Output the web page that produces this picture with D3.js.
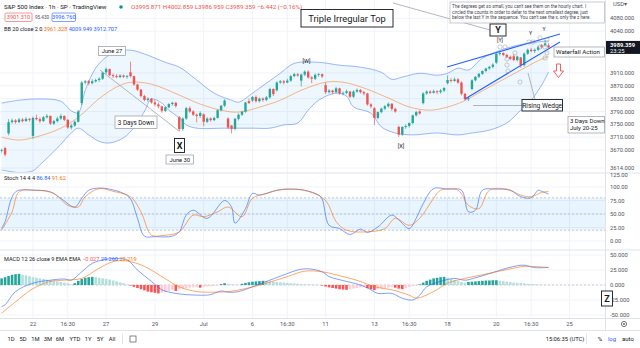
<!DOCTYPE html>
<html><head><meta charset="utf-8">
<script src="https://cdn.jsdelivr.net/npm/d3@7"></script>
<style>
body{margin:0;background:#fff}
svg{display:block}
text{font-family:Roboto,"Open Sans",sans-serif}
</style>
</head><body>
<svg id="c" width="640" height="348"></svg>
<script>
// Hourly bars, Jun 17 (last two) through Jul 22 (first two)
const opens = [
 3668,3676,
 3722,3757,3762,3757,3765,3760,3767,
 3714,3770,3766,3760,3772,3776,3752,
 3760,3768,3776,3764,3740,3746,3758,
 3816,3880,3884,3878,3884,3888,3892,
 3912,3922,3903,3900,3897,3902,3898,
 3912,3900,3874,3858,3838,3826,3830,
 3818,3812,3806,3792,3803,3813,3817,
 3772,3735,3768,3800,3790,3780,3776,
 3781,3758,3768,3763,3770,3794,3808,
 3768,3746,3736,3767,3780,3789,3822,
 3824,3835,3822,3830,3826,3834,3860,
 3856,3880,3884,3880,3886,3900,3906,
 3886,3905,3914,3896,3892,3904,3906,
 3872,3850,3855,3850,3862,3846,3848,
 3852,3836,3852,3857,3850,3846,3812,
 3800,3770,3788,3799,3806,3814,3798,
 3742,3718,3742,3745,3754,3778,3790,
 3816,3846,3852,3848,3853,3850,3855,
 3878,3888,3885,3890,3880,3845,3828,
 3860,3887,3898,3907,3916,3924,3929,
 3942,3969,3972,3966,3960,3962,3950,
 3958,3934,3970,3982,3978,3982,3996,
 3996,3995.871];
const highs = [
 3674,3680,
 3766,3768,3766,3770,3770,3772,3770,
 3774,3780,3772,3776,3782,3778,3764,
 3774,3782,3778,3766,3752,3762,3795,
 3885,3888,3888,3890,3892,3896,3914,
 3927,3924,3908,3906,3906,3905,3904,
 3945,3902,3876,3860,3842,3834,3832,
 3826,3818,3808,3806,3816,3820,3820,
 3776,3772,3804,3806,3794,3784,3790,
 3784,3772,3772,3774,3796,3810,3828,
 3772,3748,3770,3784,3792,3820,3830,
 3838,3840,3834,3834,3838,3864,3862,
 3884,3888,3888,3892,3904,3910,3910,
 3908,3918,3918,3900,3908,3910,3908,
 3880,3860,3858,3866,3864,3852,3858,
 3854,3856,3862,3860,3854,3848,3816,
 3804,3790,3802,3810,3818,3816,3802,
 3746,3744,3750,3756,3780,3792,3794,
 3850,3856,3856,3858,3856,3860,3866,
 3902,3894,3896,3894,3884,3848,3836,
 3890,3900,3910,3918,3926,3932,3940,
 3972,3976,3974,3970,3964,3968,3964,
 3960,3974,3986,3988,3986,3994,4000,
 4012,4002.859];
const lows = [
 3662,3650,
 3716,3752,3752,3754,3756,3758,3758,
 3705,3762,3754,3758,3768,3748,3748,
 3756,3764,3760,3736,3734,3742,3756,
 3810,3874,3872,3874,3880,3882,3888,
 3906,3900,3894,3893,3894,3894,3892,
 3896,3870,3854,3834,3822,3820,3814,
 3806,3800,3786,3788,3800,3808,3802,
 3728,3730,3764,3786,3776,3756,3770,
 3744,3754,3758,3760,3768,3790,3804,
 3736,3722,3732,3762,3776,3786,3814,
 3820,3818,3818,3820,3822,3830,3838,
 3852,3876,3874,3878,3882,3896,3898,
 3868,3900,3892,3878,3888,3898,3894,
 3844,3846,3844,3846,3842,3840,3844,
 3832,3832,3848,3846,3840,3808,3800,
 3748,3766,3784,3794,3802,3792,3786,
 3711,3714,3736,3740,3750,3774,3780,
 3812,3842,3844,3846,3844,3846,3850,
 3874,3880,3882,3876,3840,3824,3822,
 3856,3884,3894,3904,3912,3920,3924,
 3938,3964,3962,3956,3950,3946,3946,
 3926,3930,3966,3974,3972,3978,3986,
 3992,3986.959];
const closes = [
 3670,3656,
 3757,3762,3757,3765,3760,3767,3764,
 3770,3766,3760,3772,3776,3752,3760,
 3768,3776,3764,3740,3746,3758,3790,
 3880,3884,3878,3884,3888,3892,3911,
 3922,3903,3900,3897,3902,3898,3900,
 3900,3874,3858,3838,3826,3830,3818,
 3812,3806,3792,3803,3813,3817,3807,
 3735,3768,3800,3790,3780,3776,3785,
 3758,3768,3763,3770,3794,3808,3824,
 3740,3736,3767,3780,3789,3818,3816,
 3835,3822,3830,3826,3834,3860,3844,
 3880,3884,3880,3886,3900,3906,3902,
 3905,3914,3896,3892,3904,3906,3899,
 3850,3855,3850,3862,3846,3848,3853,
 3836,3852,3857,3850,3846,3812,3806,
 3770,3788,3799,3806,3814,3798,3790,
 3718,3742,3745,3754,3778,3788,3784,
 3846,3852,3848,3853,3850,3855,3863,
 3888,3885,3890,3880,3845,3828,3831,
 3887,3898,3907,3916,3924,3929,3936,
 3969,3972,3966,3960,3954,3950,3961,
 3934,3970,3982,3978,3982,3990,3990,
 4002,3989.359];

// Time axis: bar index of each label
const tickBars   = [9, 19, 30, 44, 58, 72, 82, 93, 107, 117, 128, 142, 152, 163];
const tickLabels = ["22","16:30","27","29","Jul","6","16:30","11","13","16:30","18","20","16:30","25"];

const priceTicks = [4080, 4040, 3910, 3870, 3830, 3790, 3750, 3710, 3670, 3614];
const stochTicks = [100, 75, 50, 25, 0];
const macdTicks  = [50, 25, 0, -25, -50];

// Bollinger Bands (20, 2) as [bar, value]
const bbUpper = [[0,3816],[5,3825],[11,3829],[17,3822],[20,3792],[22,3786],[24,3856],[27,3925],[30,3959],[33,3975],[37,3981],[42,3965],[47,3943],[51,3928],[56,3888],[61,3847],[66,3825],[68,3819],[72,3847],[76,3878],[80,3909],[84,3940],[91,3943],[97,3934],[103,3928],[109,3912],[112,3890],[115,3897],[120,3909],[125,3903],[128,3909],[131,3925],[134,3919],[138,3956],[145,3987],[151,4002],[157,4009.949]];
const bbBasis = [[0,3710],[5,3701],[11,3714],[17,3738],[22,3772],[28,3830],[33,3866],[37,3881],[43,3875],[51,3841],[57,3813],[63,3794],[68,3788],[76,3810],[80,3825],[86,3856],[93,3881],[98,3881],[104,3863],[111,3832],[117,3804],[123,3794],[128,3804],[132,3819],[134,3830],[140,3866],[149,3919],[154,3948],[157,3961.328]];
const bbLower = [[0,3608],[5,3600],[9,3605],[11,3624],[16,3676],[20,3723],[22,3738],[25,3717],[28,3697],[31,3692],[35,3708],[38,3740],[41,3790],[43,3828],[46,3816],[48,3794],[51,3770],[53,3748],[56,3738],[64,3738],[72,3738],[77,3738],[81,3748],[85,3754],[88,3794],[91,3825],[96,3847],[99,3838],[101,3804],[106,3785],[109,3742],[113,3723],[118,3717],[125,3723],[131,3717],[135,3723],[140,3732],[145,3754],[149,3794],[152,3825],[155,3872],[157,3912.707]];

// Stochastic (14, 4, 4)
const stochK = [[0,23],[1,36],[4,91],[9,94],[14,91],[17,79],[21,63],[23,79],[25,94],[28,98],[31,96],[35,88],[37,78],[39,42],[41,9],[44,8],[49,9],[51,17],[53,48],[55,57],[59,42],[64,75],[66,63],[67,33],[70,60],[72,88],[74,85],[79,94],[83,96],[87,94],[91,85],[92,78],[94,29],[97,23],[100,12],[103,22],[105,16],[108,26],[112,48],[114,39],[117,23],[119,42],[121,69],[124,97],[128,96],[132,94],[134,54],[136,57],[138,94],[142,96],[146,94],[149,82],[152,80],[154,94],[155,92],[157,86.84]];
const stochD = [[0,20],[3,54],[5,91],[10,94],[15,88],[19,66],[22,63],[24,82],[28,97],[32,92],[37,82],[40,54],[43,11],[46,10],[51,17],[55,48],[58,45],[62,54],[65,63],[69,45],[72,79],[76,88],[81,96],[88,92],[93,75],[96,36],[99,20],[105,17],[110,23],[113,42],[117,29],[120,42],[124,79],[126,94],[131,94],[134,66],[137,60],[140,94],[145,96],[149,85],[152,82],[155,90],[157,91.62]];

// MACD (12, 26, 9)
const macdLine = [[0,-36],[1,-33],[4,-11],[9,3],[14,8],[18,10],[20,8],[23,22],[26,36],[30,43],[33,44],[36,42],[39,25],[43,6],[46,-8],[50,-14],[53,-16],[58,-17],[60,-16],[63,-10],[65,-12],[68,-11],[72,-3],[77,8],[82,19],[85,25],[88,27],[92,22],[94,14],[99,6],[103,0],[106,-8],[108,-14],[112,-14],[115,-22],[118,-25],[120,-17],[122,-3],[126,6],[130,11],[133,8],[136,12],[140,19],[145,28],[148,32],[150,33],[153,29],[157,29.26]];
const macdSignal = [[0,-47],[4,-28],[9,-6],[14,6],[18,8],[23,11],[28,28],[32,39],[36,40],[41,31],[46,14],[51,-3],[56,-11],[60,-12],[65,-11],[70,-6],[76,3],[82,14],[87,23],[92,22],[98,14],[103,6],[107,-3],[112,-8],[117,-17],[119,-22],[124,-11],[128,3],[133,11],[138,17],[142,22],[147,28],[150,31],[157,29.219]];
const macdHist = [
 11,13,
 15,17,18,18.5,17,16,14.5,
 13,12,11,10,9,8,7,
 6,5,4,3,1,3,7,
 10,12,13,13.5,13,12,11,
 10,9,7.5,6,4.5,3,1,
 -1,-3,-5,-7,-9,-11,-12,
 -13,-14,-13,-12,-10,-8,-10,
 -7,-6,-5,-4.5,-4,-3.5,-4.5,
 -3,-2.5,-2,-1.5,-1,1.5,3,
 2,1,0.5,0.3,2,3.5,4.5,
 5.5,6,6.5,7,6.5,6,5.5,
 5,4.5,4,3.5,3,2.5,2,
 1.5,1.2,1,0.8,0.5,0.2,-1,
 -2.5,-4,-5,-6,-7,-7.5,-8,
 -7,-6,-5,-4,-3,-5,-7,
 -8.5,-7,-6,-5,-4,-3,-4.5,
 -6,-7,-5,-3.5,-2,-1,1,
 4,7,9,11,12,13,13.5,
 12,10,8,6.5,5,4,5,
 5.5,6,6.5,7,7.5,7.5,8,
 8,7,6.5,5.5,5,4,3.5,
 3,2.5,2,1.5,1,0.7,0.5,
 0.3,0.05];

const UP = "#26a69a", DOWN = "#ef5350";
const BLUE = "#2962ff", ORANGE = "#ff6d00";
const PR = 605;               // right edge of the plotting area
const TXT = "#131722", AX = "#50535e", GRID = "#f0f3fa", SEP = "#e0e3eb";

const svg = d3.select("#c");
const x  = d3.scaleLinear().domain([0, 163]).range([1.6, 569.5]);
const yP = d3.scaleLinear().domain([3601.6, 4137]).range([172, 0]);
const yS = d3.scaleLinear().domain([0, 100]).range([241, 187]);
const yM = d3.scaleLinear().domain([-50, 50]).range([315, 255]);

const defs = svg.append("defs");
[["cMain",0,0,PR,172.5],["cStoch",0,173.5,PR,76],["cMacd",0,250.5,PR,67]].forEach(([id,x0,y0,w,h]) => {
  defs.append("clipPath").attr("id", id).append("rect").attr("x",x0).attr("y",y0).attr("width",w).attr("height",h);
});

// grid
const grid = svg.append("g");
grid.selectAll(".v").data(tickBars).join("line")
  .attr("x1", d => x(d)).attr("x2", d => x(d)).attr("y1", 0).attr("y2", 318)
  .attr("stroke", GRID).attr("stroke-width", 1);
grid.selectAll(".hp").data(priceTicks).join("line")
  .attr("x1", 0).attr("x2", PR).attr("y1", d => yP(d)).attr("y2", d => yP(d)).attr("stroke", GRID);
grid.selectAll(".hs").data(stochTicks).join("line")
  .attr("x1", 0).attr("x2", PR).attr("y1", d => yS(d)).attr("y2", d => yS(d)).attr("stroke", GRID);
grid.selectAll(".hm").data(macdTicks).join("line")
  .attr("x1", 0).attr("x2", PR).attr("y1", d => yM(d)).attr("y2", d => yM(d)).attr("stroke", GRID);

// ---------- main pane ----------
const main = svg.append("g").attr("clip-path", "url(#cMain)");
const curve = d3.curveCatmullRom.alpha(0.5);
const lineP = d3.line().x(d => x(d[0])).y(d => yP(d[1])).curve(curve);
const upPath = lineP(bbUpper);
const loRev = lineP(bbLower.slice().reverse());
main.append("path").attr("d", upPath + "L" + loRev.slice(1) + "Z")
  .attr("fill", "#2196f3").attr("fill-opacity", 0.08);
main.append("path").attr("d", upPath).attr("fill","none").attr("stroke", BLUE).attr("stroke-opacity",0.6).attr("stroke-width",0.75);
main.append("path").attr("d", lineP(bbLower)).attr("fill","none").attr("stroke", BLUE).attr("stroke-opacity",0.6).attr("stroke-width",0.75);
main.append("path").attr("d", lineP(bbBasis)).attr("fill","none").attr("stroke", ORANGE).attr("stroke-opacity",0.65).attr("stroke-width",0.75);

const bars = d3.range(closes.length);
const col = i => closes[i] >= opens[i] ? UP : DOWN;
main.selectAll(".wick").data(bars).join("line")
  .attr("x1", i => x(i)).attr("x2", i => x(i))
  .attr("y1", i => yP(highs[i])).attr("y2", i => yP(lows[i]))
  .attr("stroke", col).attr("stroke-width", 0.7);
main.selectAll(".body").data(bars).join("rect")
  .attr("x", i => x(i) - 1.2).attr("width", 2.4)
  .attr("y", i => yP(Math.max(opens[i], closes[i])))
  .attr("height", i => Math.max(0.8, Math.abs(yP(opens[i]) - yP(closes[i]))))
  .attr("fill", col);

// ---------- stochastic pane ----------
const st = svg.append("g").attr("clip-path", "url(#cStoch)");
st.append("rect").attr("x",0).attr("width",PR).attr("y",yS(80)).attr("height",yS(20)-yS(80))
  .attr("fill","#2196f3").attr("fill-opacity",0.1);
[80,50,20].forEach(v => st.append("line").attr("x1",0).attr("x2",PR).attr("y1",yS(v)).attr("y2",yS(v))
  .attr("stroke","#787b86").attr("stroke-opacity",0.55).attr("stroke-width",0.7).attr("stroke-dasharray","2,2"));
const lineS = d3.line().x(d => x(d[0])).y(d => yS(d[1])).curve(curve);
st.append("path").attr("d", lineS(stochK)).attr("fill","none").attr("stroke",BLUE).attr("stroke-opacity",0.75).attr("stroke-width",0.8);
st.append("path").attr("d", lineS(stochD)).attr("fill","none").attr("stroke",ORANGE).attr("stroke-opacity",0.75).attr("stroke-width",0.8);

// ---------- MACD pane ----------
const mc = svg.append("g").attr("clip-path", "url(#cMacd)");
mc.append("line").attr("x1",0).attr("x2",PR).attr("y1",yM(0)).attr("y2",yM(0))
  .attr("stroke","#787b86").attr("stroke-opacity",0.5).attr("stroke-width",0.7).attr("stroke-dasharray","2,2");
const histCol = (v, i) => {
  const p = i > 0 ? macdHist[i-1] : v;
  if (v >= 0) return v >= p ? "#26a69a" : "#b2dfdb";
  return v <= p ? "#ff5252" : "#ffcdd2";
};
mc.selectAll(".h").data(macdHist).join("rect")
  .attr("x", (v,i) => x(i) - 1.3).attr("width", 2.6)
  .attr("y", v => Math.min(yM(0), yM(v))).attr("height", v => Math.abs(yM(v) - yM(0)))
  .attr("fill", histCol);
const lineM = d3.line().x(d => x(d[0])).y(d => yM(d[1])).curve(curve);
mc.append("path").attr("d", lineM(macdLine)).attr("fill","none").attr("stroke",BLUE).attr("stroke-opacity",0.75).attr("stroke-width",0.8);
mc.append("path").attr("d", lineM(macdSignal)).attr("fill","none").attr("stroke",ORANGE).attr("stroke-opacity",0.75).attr("stroke-width",0.8);

// ---------- separators and axes ----------
const sep = (x1,y1,x2,y2) => svg.append("line").attr("x1",x1).attr("y1",y1).attr("x2",x2).attr("y2",y2).attr("stroke",SEP).attr("stroke-width",1);
sep(0,173,640,173); sep(0,250,640,250); sep(0,318.5,640,318.5); sep(0,330.5,640,330.5);
sep(PR+0.5,0,PR+0.5,330);

const axT = (t, yy, opts={}) => svg.append("text").attr("x", opts.x ?? 610).attr("y", yy).attr("dy","0.35em")
  .attr("font-size", opts.fs ?? 5.8).attr("fill", opts.fill ?? AX).text(t);
priceTicks.forEach(v => axT(v.toFixed(3), yP(v)));
axT("125.00", 174.5);
stochTicks.forEach(v => axT(v.toFixed(2), yS(v)));
macdTicks.forEach(v => axT(v.toFixed(3), yM(v)));
axT("USD\u25BE", 4, {x: 613});

// last price tag
svg.append("rect").attr("x",PR+1).attr("y",yP(3989.359)-6.5).attr("width",34).attr("height",13).attr("fill","#131722");
svg.append("text").attr("x",610).attr("y",yP(3989.359)-2.5).attr("dy","0.35em").attr("font-size",5.8).attr("font-weight","bold").attr("fill","#fff").text("3989.359");
svg.append("text").attr("x",610).attr("y",yP(3989.359)+3.3).attr("dy","0.35em").attr("font-size",5.8).attr("fill","#fff").text("23:25");

// time axis
svg.selectAll(".tl").data(tickBars).join("text")
  .attr("x", (d) => x(d)).attr("y", 324).attr("dy","0.35em").attr("text-anchor","middle")
  .attr("font-size", 5.8).attr("fill", AX).text((d,i) => tickLabels[i]);
// gear icon
svg.append("circle").attr("cx",624).attr("cy",324).attr("r",2.6).attr("fill","none").attr("stroke",AX).attr("stroke-width",0.8);
svg.append("circle").attr("cx",624).attr("cy",324).attr("r",0.9).attr("fill",AX);

// bottom toolbar
const tb = [["1D",11],["5D",23],["1M",35.5],["3M",48],["6M",60],["YTD",75],["1Y",88],["5Y",100],["All",112]];
tb.forEach(([t,xx]) => svg.append("text").attr("x",xx).attr("y",339).attr("dy","0.35em").attr("text-anchor","middle").attr("font-size",5.8).attr("fill",TXT).text(t));
sep(122.5,334,122.5,344);
svg.append("rect").attr("x",130).attr("y",336).attr("width",6).attr("height",6).attr("fill","none").attr("stroke",AX).attr("stroke-width",0.7);
svg.append("text").attr("x",565).attr("y",339).attr("dy","0.35em").attr("text-anchor","middle").attr("font-size",5.8).attr("fill",TXT).text("15:06:35 (UTC)");
sep(586.5,334,586.5,344);
svg.append("text").attr("x",600).attr("y",339).attr("dy","0.35em").attr("text-anchor","middle").attr("font-size",6).attr("fill",TXT).text("%");
svg.append("text").attr("x",612).attr("y",339).attr("dy","0.35em").attr("text-anchor","middle").attr("font-size",6).attr("fill","#2962ff").text("log");
svg.append("text").attr("x",628).attr("y",339).attr("dy","0.35em").attr("text-anchor","middle").attr("font-size",6).attr("fill",TXT).text("auto");

// ---------- legends ----------
const leg = svg.append("g").attr("font-size", 6.2);
const hdr = leg.append("text").attr("x",4).attr("y",7).attr("dy","0.35em");
hdr.append("tspan").attr("fill",TXT).text("S&P 500 Index \u00B7 1h \u00B7 SP  \u00B7 TradingView");
leg.append("circle").attr("cx",121).attr("cy",7).attr("r",1.8).attr("fill","#089981");
leg.append("text").attr("x",131).attr("y",7).attr("dy","0.35em").attr("fill",DOWN)
  .text("O3995.871 H4002.859 L3986.959 C3989.359 \u22126.442 (\u22120.16%)");
leg.append("rect").attr("x",5).attr("y",13).attr("width",27).attr("height",8.5).attr("rx",1.2).attr("fill","#fff").attr("stroke",DOWN).attr("stroke-width",0.6);
leg.append("text").attr("x",18.5).attr("y",17.3).attr("dy","0.35em").attr("text-anchor","middle").attr("font-size",5.6).attr("fill",DOWN).text("3901.310");
leg.append("text").attr("x",42).attr("y",17.3).attr("dy","0.35em").attr("text-anchor","middle").attr("font-size",4.6).attr("fill",AX).text("95.430");
leg.append("rect").attr("x",52).attr("y",13).attr("width",23.5).attr("height",8.5).attr("rx",1.2).attr("fill","#fff").attr("stroke",BLUE).attr("stroke-width",0.6);
leg.append("text").attr("x",63.8).attr("y",17.3).attr("dy","0.35em").attr("text-anchor","middle").attr("font-size",5.6).attr("fill",BLUE).text("3996.760");
const bbl = leg.append("text").attr("x",4).attr("y",29.5).attr("dy","0.35em").attr("font-size",5.6);
bbl.append("tspan").attr("fill",TXT).text("BB 20 close 2 0 ");
bbl.append("tspan").attr("fill",ORANGE).text(" 3961.328 ");
bbl.append("tspan").attr("fill",BLUE).text(" 4009.949 ");
bbl.append("tspan").attr("fill",BLUE).text(" 3912.707");
const stl = leg.append("text").attr("x",4).attr("y",178.5).attr("dy","0.35em").attr("font-size",5.6);
stl.append("tspan").attr("fill",TXT).text("Stoch 14 4 4 ");
stl.append("tspan").attr("fill",BLUE).text(" 86.84 ");
stl.append("tspan").attr("fill",ORANGE).text(" 91.62");
const mcl = leg.append("text").attr("x",4).attr("y",259.5).attr("dy","0.35em").attr("font-size",5.6);
mcl.append("tspan").attr("fill",TXT).text("MACD 12 26 close 9 EMA EMA ");
mcl.append("tspan").attr("fill","#ff5252").text(" \u22120.027 ");
mcl.append("tspan").attr("fill",BLUE).text(" 29.260 ");
mcl.append("tspan").attr("fill",ORANGE).text(" 29.219");

// ---------- drawings ----------
const dr = svg.append("g");
const GREY = "#9598a1";
const ln = (x1,y1,x2,y2,c=GREY,w=0.7) => dr.append("line").attr("x1",x1).attr("y1",y1).attr("x2",x2).attr("y2",y2).attr("stroke",c).attr("stroke-width",w);
const box = (x0,y0,x1,y1,c=GREY,w=0.7) => dr.append("rect").attr("x",x0).attr("y",y0).attr("width",x1-x0).attr("height",y1-y0).attr("fill","#fff").attr("stroke",c).attr("stroke-width",w);
const tx = (t,xx,yy,fs,opts={}) => dr.append("text").attr("x",xx).attr("y",yy).attr("dy","0.35em")
  .attr("text-anchor",opts.anchor ?? "middle").attr("font-size",fs).attr("font-weight",opts.bold?"bold":"normal")
  .attr("fill",opts.fill ?? TXT).text(t);

// trend line from the late-June high into the X low
ln(100, 70, 179, 131);
box(98.5,46.5,125.5,55.5); tx("June 27",112,51,5.8);
box(115,116,157,128.5); tx("3 Days Down",136,122.3,6.3);
box(174.5,138.5,184.5,152.5,TXT,0.9); tx("X",179.5,145.7,9,{bold:true});
box(166,155,193.5,164); tx("June 30",179.8,159.6,5.8);
tx("[W]",306.5,61,5.6);
tx("[X]",401,146,5.6);

// top annotations
ln(393, 3, 490, 30);
box(450,2,604.5,23,"#b2b5be",0.7);
tx("The degrees get so small, you can't see them on the hourly chart. I",452,6,4.6,{anchor:"start",fill:"#434651"});
tx("circled the counts in order to defer to the next smallest degree, just",452,12,4.6,{anchor:"start",fill:"#434651"});
tx("below the last Y in the sequence. You can't see the x, only the z here.",452,17.8,4.6,{anchor:"start",fill:"#434651"});
box(301,9.5,393,27,TXT,0.9); tx("Triple Irregular Top",347,18.5,9.3);
box(490,24,506,36,TXT,0.9); tx("Y",498,30.2,9,{bold:true});
tx("[Y]",500,40.5,5.2);
tx("Y",530.5,33,5.2); tx("Y",544,28.8,5.2);

// rising wedge
ln(447,67,560,34,BLUE,1.1);
ln(465,99,560,42,BLUE,1.1);
// wave-count circles
const circ = [[500,47],[505,47],[507,59],[507,65],[508,71],[520,82],[515,53],[529,42],[533,42],[540,38],[547,40],[545,47],[540,47],[547,53],[545,58]];
circ.forEach(([cx,cy]) => dr.append("circle").attr("cx",cx).attr("cy",cy).attr("r",2.1).attr("fill","none").attr("stroke",GREY).attr("stroke-width",0.5));

ln(473,105.5,522,105.5);
ln(535,99.5,528,73);
box(522,99.5,562.5,111,TXT,0.9); tx("Rising Wedge",542.2,105.5,6.6);
box(554,47,604.5,57); tx("Waterfall Action",556,52.2,6.2,{anchor:"start"});
// red down arrow
dr.append("path").attr("d","M556.5,64 L560.5,64 L560.5,71 L563.5,71 L558.5,77.5 L553.5,71 L556.5,71 Z")
  .attr("fill","#fff").attr("stroke","#f23645").attr("stroke-width",0.8);
box(568,116.5,604.5,133); tx("3 Days Down",570,121,6,{anchor:"start"}); tx("July 20-25",570,128.3,6,{anchor:"start"});

box(601.5,291,612.5,306,TXT,0.9); tx("Z",607,298.7,9,{bold:true});
</script>
</body></html>
